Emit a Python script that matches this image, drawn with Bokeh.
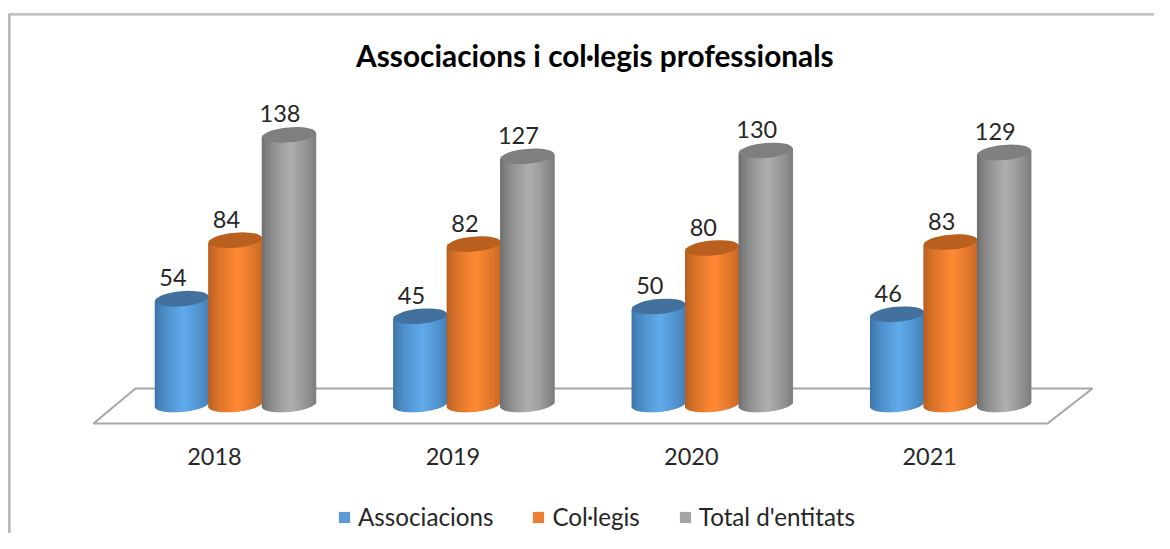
import math
from bokeh.core.properties import value
from bokeh.embed import file_html
from bokeh.models import BoxAnnotation, ColumnDataSource, FixedTicker, Label, Legend, LegendItem, Range1d
from bokeh.plotting import figure
from bokeh.resources import INLINE

title_text = "Associacions  i col·legis professionals"
years = ["2018", "2019", "2020", "2021"]
associacions = [54, 45, 50, 46]
col_legis = [84, 82, 80, 83]
total_entitats = [138, 127, 130, 129]
series_names = ["Associacions", "Col·legis", "Total d'entitats"]

FONT = "Lato"
W, H = 1154, 533
STEP = 238.4          # px per category
PXU = 1.95            # px per value unit
ZERO_Y = 403.5        # value 0 in figure px
X0 = 214.0            # category 0 centre in figure px
BAR = 53.5            # cylinder width in px
A, B, TILT = BAR / 2, 7.5, 2.4

x_range = Range1d((0 - X0) / STEP, (W - X0) / STEP)
y_range = Range1d((ZERO_Y - H) / PXU, ZERO_Y / PXU)

p = figure(width=W, height=H, x_range=x_range, y_range=y_range,
           output_backend="svg", toolbar_location=None, min_border_left=0, min_border_right=0,
           min_border_top=0, min_border_bottom=0, y_axis_location=None)
p.xgrid.visible = False
p.ygrid.visible = False
p.outline_line_color = None
p.background_fill_color = "white"
p.border_fill_color = "white"


def xd(px):
    return px / STEP


def yd(px):
    return px / PXU


ax = p.xaxis[0]
ax.fixed_location = (ZERO_Y - 437) / PXU
ax.ticker = FixedTicker(ticks=list(range(len(years))))
ax.major_label_overrides = {i: y for i, y in enumerate(years)}
ax.axis_line_color = None
ax.major_tick_line_color = None
ax.minor_tick_line_color = None
ax.major_label_text_font = FONT
ax.major_label_text_font_size = "23.5px"
ax.major_label_text_color = "#262626"
ax.major_label_standoff = 4

# floor
fx = [(93 - X0) / STEP, (1047 - X0) / STEP, (1092 - X0) / STEP, (135 - X0) / STEP]
fy = [(ZERO_Y - 423) / PXU, (ZERO_Y - 423) / PXU, (ZERO_Y - 388) / PXU, (ZERO_Y - 388) / PXU]
p.patch(fx, fy, fill_color="white", line_color="#a6a6a6", line_width=2)

palette = [
    dict(base="#5B9BD5", hi=(97, 170, 235), lo=(58, 112, 163), top="#41719C"),
    dict(base="#ED7D31", hi=(255, 137, 52), lo=(178, 92, 32), top="#B9601F"),
    dict(base="#A5A5A5", hi=(175, 175, 175), lo=(105, 105, 105), top="#7F7F7F"),
]
all_values = [associacions, col_legis, total_entitats]
offsets = [-BAR, 0, BAR]
GROUP_SHIFT = 21
N = 54
legend_items = []


def mix(a, b, f):
    return "#%02x%02x%02x" % tuple(round(a[i] + (b[i] - a[i]) * f) for i in range(3))


for name, vals, off, c in zip(series_names, all_values, offsets, palette):
    centers = [i + xd(off + GROUP_SHIFT) for i in range(len(vals))]
    src = ColumnDataSource(dict(x=centers, top=vals))
    base = p.vbar(x="x", top="top", bottom=0, width=xd(BAR), fill_color=c["base"], line_color=None, source=src)
    legend_items.append(LegendItem(label=name, renderers=[base]))

    l, r, t, b, col = [], [], [], [], []
    for cx, v in zip(centers, vals):
        for k in range(N):
            t0 = -1 + 2 * k / N
            t1 = -1 + 2 * (k + 1) / N
            tm = (t0 + t1) / 2
            l.append(cx + xd(t0 * A))
            r.append(cx + xd(t1 * A))
            t.append(v + yd(TILT * tm))
            b.append(yd(TILT * tm - B * math.sqrt(max(0.0, 1 - tm * tm))))
            f = max(0.0, 1 - abs(tm - 0.08) / 1.08) ** 0.65
            col.append(mix(c["lo"], c["hi"], f))
    p.quad(left=l, right=r, top=t, bottom=b, fill_color=col, line_color=col, line_width=1)
    p.ellipse(x=centers, y=vals, width=BAR, height=2 * B, width_units="screen", height_units="screen",
              angle=math.atan2(TILT, A), fill_color=c["top"], line_color=None)
    p.text(x=[cx - xd(9) for cx in centers], y=[v + yd(21) for v in vals],
           text=[str(v) for v in vals], text_align="center", text_baseline="middle",
           text_font=value(FONT), text_font_size="23.5px", text_color="#262626")

p.add_layout(Label(x=598, y=H - 55, x_units="screen", y_units="screen", text=title_text,
                   text_font=FONT, text_font_size="29.8px", text_font_style="bold", text_color="#000000",
                   text_align="center", text_baseline="middle"))

legend = Legend(items=legend_items, orientation="horizontal", location=(337, H - 531),
                background_fill_alpha=0, border_line_color=None, glyph_width=14, glyph_height=14,
                label_text_font=FONT, label_text_font_size="24.2px", label_text_color="#262626",
                spacing=38, padding=0, margin=0, label_standoff=7)
p.add_layout(legend, "center")

for left, top, colour in [(10, 15, "#d4d4d4"), (8.5, 13.5, "#8c8c8c")]:
    p.add_layout(BoxAnnotation(left=left, right=W + 20, top=H - top, bottom=-20, left_units="screen",
                               right_units="screen", top_units="screen", bottom_units="screen", fill_alpha=0,
                               line_color=colour, line_alpha=1, line_width=1.2))

open("out.html", "w").write(file_html(p, INLINE))
